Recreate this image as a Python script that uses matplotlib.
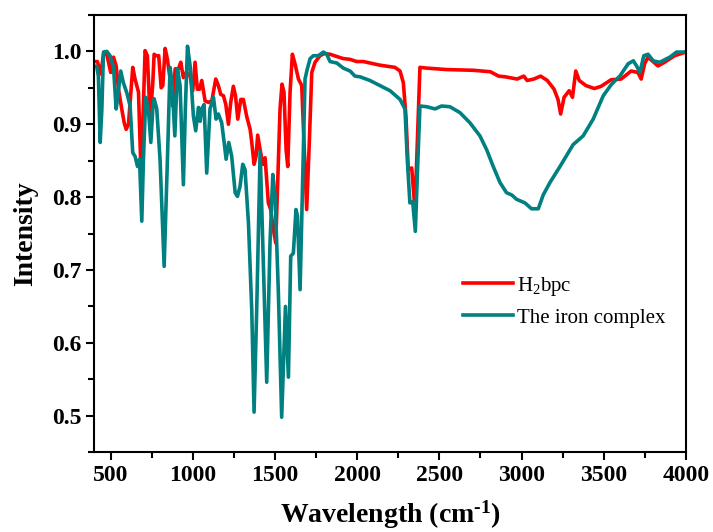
import matplotlib
matplotlib.use("Agg")
import matplotlib.pyplot as plt
from matplotlib.ticker import MultipleLocator

plt.rcParams['font.family'] = ['Liberation Serif', 'DejaVu Serif']
plt.rcParams['mathtext.default'] = 'regular'

# IR spectrum of the free ligand (H2bpc)
ligand_x = [400, 420, 441, 457, 477, 501, 518, 534, 548, 568, 583, 595, 609, 619, 635, 649,
            670, 684, 696, 710, 724, 741, 757, 765, 777, 793, 808, 818, 832, 846, 862, 878,
            893, 913, 927, 943, 960, 984, 1000, 1014, 1028, 1041, 1055, 1075, 1095, 1116,
            1140, 1156, 1170, 1187, 1201, 1217, 1231, 1247, 1260, 1274, 1292, 1308, 1328,
            1349, 1359, 1373, 1385, 1395, 1410, 1426, 1440, 1450, 1460, 1474, 1491, 1505,
            1521, 1531, 1543, 1555, 1568, 1578, 1592, 1606, 1622, 1643, 1663, 1677, 1693,
            1709, 1724, 1744, 1774, 1800, 1835, 1876, 1916, 1957, 1997, 2038, 2099, 2139,
            2230, 2261, 2281, 2297, 2311, 2332, 2352, 2366, 2382, 2423, 2544, 2708, 2810,
            2861, 2902, 2973, 3014, 3034, 3075, 3096, 3116, 3157, 3198, 3222, 3238, 3259,
            3290, 3310, 3330, 3351, 3392, 3443, 3484, 3545, 3606, 3667, 3708, 3728, 3749,
            3769, 3830, 3870, 3931, 4000]
ligand_y = [0.986, 0.986, 0.969, 0.996, 0.996, 0.971, 0.992, 0.980, 0.948, 0.921, 0.902,
            0.893, 0.900, 0.930, 0.978, 0.962, 0.944, 0.842, 0.898, 1.001, 0.994, 0.907,
            0.957, 0.996, 0.994, 0.994, 0.950, 0.953, 1.004, 0.989, 0.962, 0.925, 0.976,
            0.976, 0.985, 0.964, 0.971, 0.966, 0.946, 0.985, 0.948, 0.948, 0.960, 0.932,
            0.930, 0.932, 0.962, 0.953, 0.941, 0.939, 0.927, 0.900, 0.930, 0.952, 0.939,
            0.907, 0.934, 0.934, 0.911, 0.893, 0.875, 0.845, 0.856, 0.885, 0.865, 0.845,
            0.854, 0.824, 0.792, 0.783, 0.755, 0.737, 0.852, 0.921, 0.955, 0.944, 0.865,
            0.842, 0.944, 0.996, 0.983, 0.962, 0.953, 0.875, 0.783, 0.875, 0.971, 0.985,
            0.994, 0.997, 0.996, 0.993, 0.990, 0.989, 0.986, 0.986, 0.983, 0.981, 0.978,
            0.973, 0.957, 0.911, 0.838, 0.840, 0.783, 0.875, 0.978, 0.977, 0.975, 0.974,
            0.972, 0.966, 0.965, 0.962, 0.966, 0.960, 0.962, 0.964, 0.966, 0.960, 0.948,
            0.934, 0.914, 0.937, 0.946, 0.937, 0.973, 0.960, 0.953, 0.949, 0.952, 0.961,
            0.962, 0.973, 0.971, 0.962, 0.983, 0.992, 0.980, 0.985, 0.994, 0.999]

# IR spectrum of the iron complex
complex_x = [400, 416, 426, 437, 447, 457, 477, 497, 518, 534, 542, 562, 578, 599, 619, 635,
             649, 664, 676, 690, 700, 714, 730, 745, 757, 765, 781, 801, 826, 846, 862, 874,
             891, 907, 923, 943, 955, 968, 984, 1004, 1018, 1035, 1045, 1055, 1069, 1085,
             1105, 1126, 1142, 1156, 1176, 1191, 1203, 1219, 1237, 1258, 1272, 1288, 1304,
             1318, 1339, 1359, 1373, 1389, 1410, 1426, 1450, 1470, 1487, 1501, 1521, 1541,
             1564, 1582, 1596, 1612, 1628, 1637, 1653, 1669, 1683, 1697, 1714, 1734, 1764,
             1795, 1815, 1835, 1876, 1916, 1957, 1987, 2018, 2078, 2139, 2200, 2261, 2291,
             2305, 2321, 2338, 2354, 2366, 2382, 2423, 2474, 2514, 2564, 2625, 2686, 2747,
             2788, 2828, 2869, 2909, 2940, 2970, 3021, 3061, 3102, 3132, 3173, 3234, 3314,
             3375, 3436, 3497, 3548, 3598, 3649, 3680, 3700, 3720, 3744, 3770, 3801, 3841,
             3902, 3943, 4000]
complex_y = [0.980, 0.979, 0.966, 0.875, 0.920, 0.999, 1.000, 0.994, 0.978, 0.921, 0.934,
             0.973, 0.957, 0.943, 0.925, 0.861, 0.856, 0.842, 0.852, 0.767, 0.852, 0.937,
             0.921, 0.875, 0.921, 0.935, 0.921, 0.852, 0.705, 0.852, 0.978, 0.957, 0.884,
             0.976, 0.953, 0.817, 0.921, 1.007, 0.980, 0.911, 0.891, 0.923, 0.904, 0.921,
             0.927, 0.833, 0.921, 0.937, 0.907, 0.914, 0.902, 0.875, 0.852, 0.875, 0.856,
             0.806, 0.801, 0.815, 0.845, 0.838, 0.764, 0.645, 0.505, 0.645, 0.863, 0.737,
             0.546, 0.737, 0.831, 0.801, 0.668, 0.498, 0.650, 0.553, 0.719, 0.723, 0.783,
             0.774, 0.673, 0.829, 0.962, 0.976, 0.990, 0.994, 0.994, 0.999, 0.996, 0.986,
             0.984, 0.977, 0.973, 0.966, 0.965, 0.960, 0.953, 0.946, 0.934, 0.921, 0.852,
             0.792, 0.794, 0.753, 0.829, 0.925, 0.924, 0.921, 0.925, 0.924, 0.916, 0.902,
             0.884, 0.865, 0.842, 0.820, 0.806, 0.803, 0.797, 0.792, 0.784, 0.784, 0.803,
             0.820, 0.842, 0.872, 0.884, 0.907, 0.939, 0.955, 0.966, 0.983, 0.987, 0.980,
             0.971, 0.994, 0.996, 0.987, 0.985, 0.992, 0.999, 0.999]

fig = plt.figure(figsize=(7.13, 5.32), dpi=100)
ax = fig.add_axes([0.132, 0.150, 0.830, 0.822])

ax.plot(ligand_x, ligand_y, color='#FF0000', lw=2.6, label='H$_2$bpc')
ax.plot(complex_x, complex_y, color='#008080', lw=2.6, label='The iron complex')

ax.set_xlim(400, 4000)
ax.set_ylim(0.45, 1.05)
ax.xaxis.set_major_locator(MultipleLocator(500))
ax.xaxis.set_minor_locator(MultipleLocator(250))
ax.yaxis.set_major_locator(MultipleLocator(0.1))
ax.yaxis.set_minor_locator(MultipleLocator(0.05))
ax.set_xticks(range(500, 4001, 500))

ax.tick_params(which='both', direction='out', top=False, right=False, width=1.5)
ax.tick_params(which='major', length=6, labelsize=17, pad=3)
ax.tick_params(which='minor', length=4)
for lbl in ax.get_xticklabels() + ax.get_yticklabels():
    lbl.set_fontweight('bold')
for sp in ax.spines.values():
    sp.set_linewidth(1.5)

# hyphen (U+2010) in the exponent, as in the usual unit notation
ax.set_xlabel('Wavelength (cm$^{\u20101}$)', fontsize=20, fontweight='bold', labelpad=9)
ax.set_ylabel('Intensity', fontsize=20, fontweight='bold', labelpad=10)

ax.legend(loc='upper left', bbox_to_anchor=(0.605, 0.43), frameon=False, fontsize=15,
          handlelength=2.4, handletextpad=0.2, labelspacing=0.5, borderpad=0)

fig.savefig('out.png', dpi=100)
